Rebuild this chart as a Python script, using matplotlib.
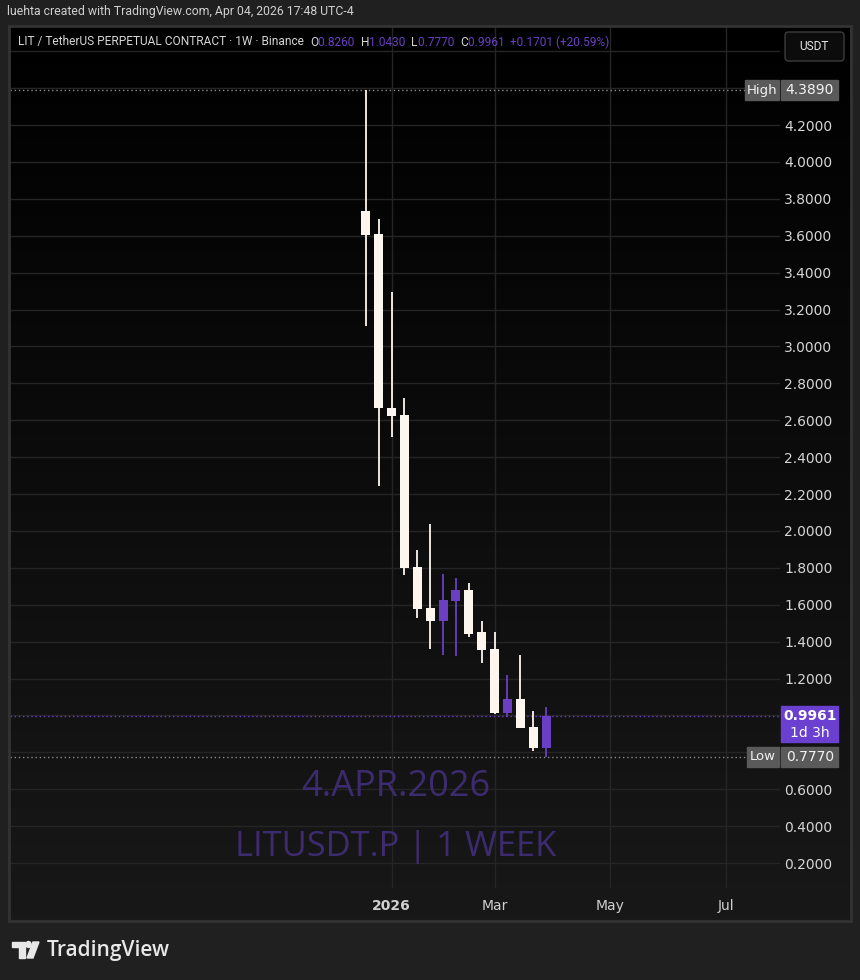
import numpy as np
import matplotlib
matplotlib.use("Agg")
import matplotlib.pyplot as plt
import matplotlib.dates as mdates
from matplotlib.patches import Rectangle, FancyBboxPatch, Polygon, Circle
import pandas as pd

# weekly candles, LIT/USDT perp
weeks = ["2025-12-22", "2025-12-29", "2026-01-05", "2026-01-12", "2026-01-19",
         "2026-01-26", "2026-02-02", "2026-02-09", "2026-02-16", "2026-02-23",
         "2026-03-02", "2026-03-09", "2026-03-16", "2026-03-23", "2026-03-30"]
opens = [3.734, 3.609, 2.665, 2.628, 1.804, 1.582, 1.512, 1.620, 1.680, 1.452,
         1.360, 1.013, 1.089, 0.937, 0.826]
highs = [4.389, 3.690, 3.295, 2.720, 1.896, 2.037, 1.766, 1.745, 1.718, 1.512,
         1.452, 1.219, 1.327, 1.024, 1.043]
lows = [3.111, 2.243, 2.510, 1.760, 1.528, 1.360, 1.327, 1.322, 1.425, 1.284,
        1.005, 0.991, 0.930, 0.807, 0.777]
closes = [3.604, 2.666, 2.623, 1.800, 1.577, 1.512, 1.625, 1.680, 1.441, 1.354,
          1.013, 1.089, 0.932, 0.826, 0.9961]

price_ticks = [round(0.2 * i, 1) for i in range(1, 24)]
hidden_ticks = [0.8, 1.0, 4.4, 4.6]
time_ticks = ["2026-01-05", "2026-03-02", "2026-05-04", "2026-07-06"]
time_labels = ["2026", "Mar", "May", "Jul"]

hi_price, lo_price, last_price = 4.3890, 0.7770, 0.9961

W, H = 860, 980
UP = "#6a3fc4"
DOWN = "#fdf6ef"
BG = "#202020"


def fx(x):
    return x / W


def fy(y):
    return 1 - y / H


fig = plt.figure(figsize=(W / 100, H / 100), dpi=100, facecolor=BG)
renderer = fig.canvas.get_renderer()

# chart panel with vertical gradient
bg_ax = fig.add_axes([fx(10), fy(920), fx(840), (920 - 27) / H])
grad = np.linspace(0, 1, 256).reshape(-1, 1)
bg_ax.imshow(grad, aspect="auto", extent=[0, 1, 0, 1],
             cmap=matplotlib.colors.LinearSegmentedColormap.from_list("g", ["#181818", "#000000"]),
             origin="lower")
bg_ax.set_axis_off()
fig.patches.append(Rectangle((fx(9), fy(921)), fx(842), (921 - 26) / H, transform=fig.transFigure,
                             fill=False, edgecolor="#333333", lw=2, zorder=5))

ax = fig.add_axes([fx(10), fy(888), fx(770), (888 - 27) / H])
ax.patch.set_alpha(0)

dates = mdates.date2num(pd.to_datetime(weeks))
o = np.array(opens)
c = np.array(closes)
colors = [UP if cc >= oo else DOWN for oo, cc in zip(o, c)]
ax.vlines(dates, lows, highs, colors=colors, lw=1.3, zorder=3)
ax.bar(dates, np.abs(c - o), bottom=np.minimum(o, c), width=4.9, color=colors, zorder=4)

last = dates[-1]
ax.set_xlim(last - 291.6, last + 127.3)
ax.set_ylim(0.0645, 4.7312)

ax.set_yticks(price_ticks)
ax.set_yticklabels(["" if t in hidden_ticks else f"{t:.4f}" for t in price_ticks])
ax.yaxis.tick_right()
ax.tick_params(axis="y", length=0, pad=3, labelsize=10, labelcolor="#d6d6d6")
ax.set_xticks(mdates.date2num(pd.to_datetime(time_ticks)))
ax.set_xticklabels(time_labels)
ax.tick_params(axis="x", length=0, pad=8, labelsize=10, labelcolor="#d0d0d0")
ax.get_xticklabels()[0].set_fontweight("bold")
ax.grid(True, color="#252525", lw=1)
ax.set_axisbelow(True)
for s in ax.spines.values():
    s.set_visible(False)

# price lines
ax.axhline(hi_price, color="#8c8c8c", lw=1, ls=(0, (1, 2)), zorder=2)
ax.axhline(lo_price, color="#8c8c8c", lw=1, ls=(0, (1, 2)), zorder=2)
ax.axhline(last_price, color=UP, lw=1, ls=(0, (1, 2)), zorder=2)

# watermark
wm = dict(color="#3d2b70", ha="center", va="center", family="Open Sans", zorder=1)
fig.text(fx(396), fy(787), "4.APR.2026", fontsize=26, **wm)
fig.text(fx(396), fy(847), "LITUSDT.P | 1 WEEK", fontsize=24.8, **wm)


def price_y(p):
    return H - ax.transData.transform((0, p))[1]


def box(x0, x1, y0, y1, color):
    fig.patches.append(Rectangle((fx(x0), fy(y1)), (x1 - x0) / W, (y1 - y0) / H,
                                 transform=fig.transFigure, color=color, zorder=6))


yh = price_y(hi_price)
box(745, 779, yh - 10, yh + 10, "#5a5a5a")
box(781, 838, yh - 10, yh + 10, "#5a5a5a")
fig.text(fx(762), fy(yh), "High", ha="center", va="center", fontsize=9.5, color="#f2f2f2", zorder=7)
fig.text(fx(810), fy(yh), f"{hi_price:.4f}", ha="center", va="center", fontsize=10, color="#f2f2f2", zorder=7)

yl = price_y(lo_price)
box(747, 779, yl - 10, yl + 10, "#5a5a5a")
box(781, 838, yl - 10, yl + 10, "#5a5a5a")
fig.text(fx(763), fy(yl), "Low", ha="center", va="center", fontsize=9.5, color="#f2f2f2", zorder=7)
fig.text(fx(810), fy(yl), f"{lo_price:.4f}", ha="center", va="center", fontsize=10, color="#f2f2f2", zorder=7)

yc = price_y(last_price)
box(781, 838, yc - 10, yc + 26, "#6b3fd0")
fig.text(fx(810), fy(yc), f"{last_price:.4f}", ha="center", va="center", fontsize=10,
         color="#ffffff", weight="bold", zorder=7)
fig.text(fx(810), fy(yc + 17), "1d 3h", ha="center", va="center", fontsize=10, color="#ffffff", zorder=7)

# header texts, sized to the width they take in the original
hdr_font = dict(family="Roboto", va="center")


def fitted_size(txt, target, base=10):
    t = fig.text(0, 0, txt, fontsize=base, **hdr_font)
    w = t.get_window_extent(renderer).width
    t.remove()
    return base * target / w


credit = "luehta created with TradingView.com, Apr 04, 2026 17:48 UTC-4"
fig.text(fx(7), fy(11), credit, fontsize=fitted_size(credit, 348), color="#d0d0d0", **hdr_font)

o_, h_, l_, c_ = opens[-1], highs[-1], lows[-1], closes[-1]
chg = c_ - o_
segments = [("LIT / TetherUS PERPETUAL CONTRACT · 1W · Binance  ", "#d6d6d6"),
            ("O", "#d6d6d6"), (f"{o_:.4f}  ", UP),
            ("H", "#d6d6d6"), (f"{h_:.4f}  ", UP),
            ("L", "#d6d6d6"), (f"{l_:.4f}  ", UP),
            ("C", "#d6d6d6"), (f"{c_:.4f}  ", UP),
            (f"+{chg:.4f} (+{chg / o_ * 100:.2f}%)", UP)]
hsize = fitted_size("".join(s for s, _ in segments), 592)
x = 18.0
for txt, col in segments:
    t = fig.text(fx(x), fy(42), txt, fontsize=hsize, color=col, zorder=7, **hdr_font)
    x += t.get_window_extent(renderer).width

fig.patches.append(FancyBboxPatch((fx(785), fy(61)), fx(59), 29 / H, boxstyle="round,pad=0,rounding_size=0.004",
                                  transform=fig.transFigure, facecolor="#0c0c0c", edgecolor="#3c3c3c", lw=1, zorder=6))
fig.text(fx(814), fy(46), "USDT", ha="center", va="center", fontsize=hsize, color="#e6e6e6",
         zorder=7, family="Roboto")

# TradingView logo
lc = "#e8e8e8"
fig.patches.append(Polygon([(fx(12), fy(942)), (fx(25), fy(942)), (fx(25), fy(958)), (fx(19), fy(958)),
                            (fx(19), fy(947)), (fx(12), fy(947))], closed=True, transform=fig.transFigure,
                           color=lc))
fig.patches.append(Circle((fx(28.5), fy(944.5)), 2.6 / W, transform=fig.transFigure, color=lc))
fig.patches.append(Polygon([(fx(33), fy(942)), (fx(39), fy(942)), (fx(33), fy(958)), (fx(27), fy(958))],
                           closed=True, transform=fig.transFigure, color=lc))
fig.text(fx(47), fy(950), "TradingView", fontsize=15, color=lc, weight="semibold",
         family="Open Sans", va="center")

fig.savefig("out.png", dpi=100, facecolor=BG)
